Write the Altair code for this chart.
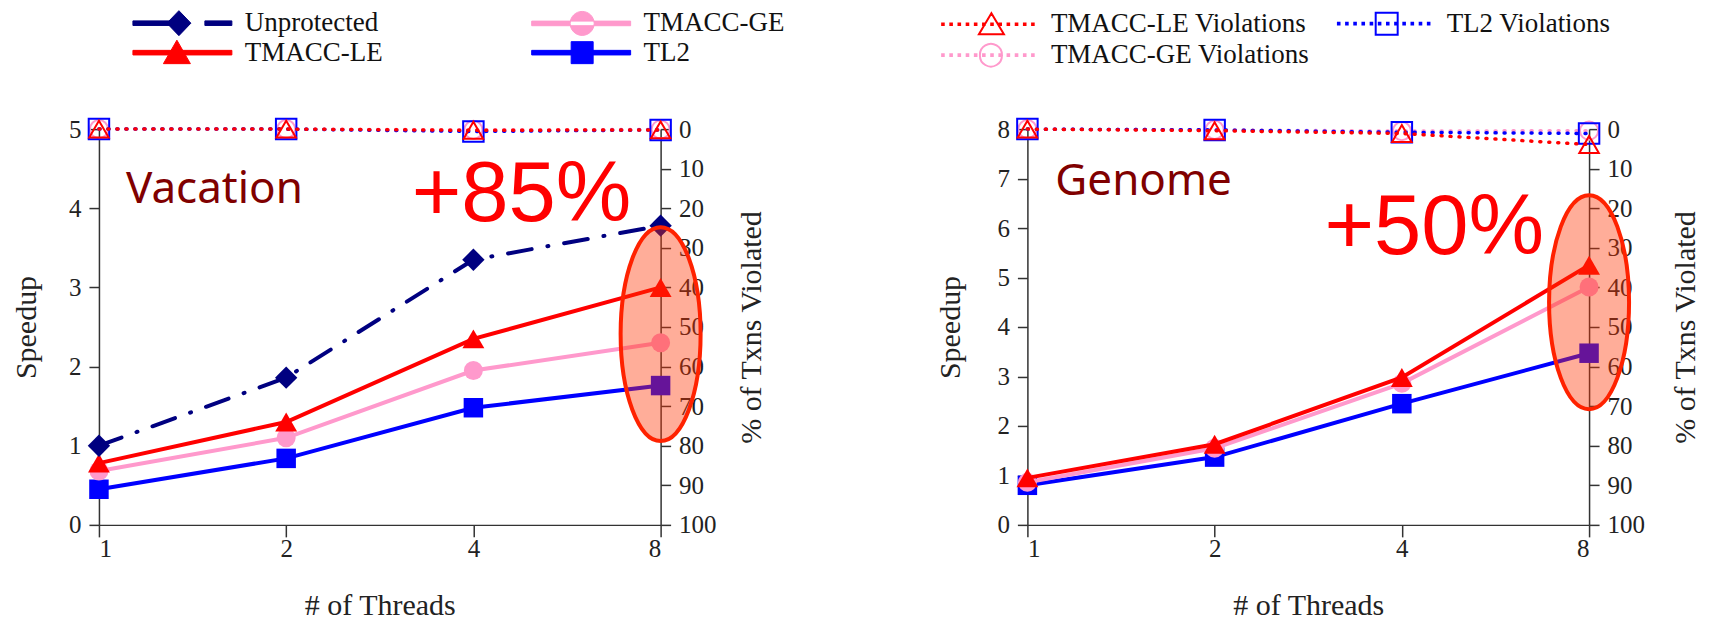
import altair as alt
import pandas as pd

# ---------------- data ----------------
threads = [1, 2, 4, 8]

speed_series = ["Unprotected", "TMACC-LE", "TMACC-GE", "TL2"]
viol_series = ["TMACC-LE Violations", "TMACC-GE Violations", "TL2 Violations"]

# Vacation speedup
vac_unprotected = [1.00, 1.86, 3.35, 3.78]
vac_tmacc_le = [0.78, 1.30, 2.35, 3.00]
vac_tmacc_ge = [0.68, 1.10, 1.95, 2.30]
vac_tl2 = [0.45, 0.84, 1.48, 1.76]

# Genome speedup
gen_tmacc_le = [0.95, 1.63, 2.98, 5.25]
gen_tmacc_ge = [0.86, 1.55, 2.86, 4.81]
gen_tl2 = [0.80, 1.37, 2.45, 3.47]

# % of transactions violated
vac_le_viol = [0.0, 0.0, 0.3, 0.2]
vac_ge_viol = [0.0, 0.0, 0.2, 0.1]
vac_tl2_viol = [0.0, 0.0, 0.6, 0.2]
gen_le_viol = [0.0, 0.4, 1.1, 3.9]
gen_ge_viol = [0.0, 0.2, 0.5, 0.4]
gen_tl2_viol = [0.0, 0.2, 0.8, 1.1]

vac_speedup_max = 5
gen_speedup_max = 8
pct_ticks = list(range(0, 101, 10))

# annotations (threads, speedup)
vac_name = ("Vacation", 1.105, 4.07)
gen_name = ("Genome", 1.109, 6.67)
vac_gain = ("+85%", 4.78, 3.84)
gen_gain = ("+50%", 4.51, 5.48)
vac_ellipse_center = 2.41
gen_ellipse_center = 4.50

# ---------------- styles ----------------
NAVY, RED, PINK, BLUE = "#000080", "#ff0000", "#ff99cc", "#0000ff"
STYLE = {
    "Unprotected": dict(color=NAVY, shape="diamond", size=500, dash=[24, 16, 1, 16], cap="round"),
    "TMACC-LE": dict(color=RED, shape="triangle-up", size=480),
    "TMACC-GE": dict(color=PINK, shape="circle", size=360),
    "TL2": dict(color=BLUE, shape="square", size=380),
    "TMACC-LE Violations": dict(color=RED, shape="triangle-up", size=380),
    "TMACC-GE Violations": dict(color=PINK, shape="circle", size=330),
    "TL2 Violations": dict(color=BLUE, shape="square", size=420),
}

SERIF = "Liberation Serif"
AX = dict(labelFont=SERIF, labelFontSize=25, labelColor="#222222", titleFont=SERIF,
          titleFontSize=30, titleFontWeight="normal", titleColor="#222222",
          domainColor="#333333", domainWidth=1.5, tickColor="#333333", tickWidth=1.5, grid=False)

U = 14.0  # px per legend path unit (symbolSize 784 -> diameter 28)


def P(v):
    return f"{v / U:.3f}"


def poly(pts):
    return "M " + " L ".join(f"{P(x)} {P(y)}" for x, y in pts) + " Z "


def bar(x0, x1, h=2.3):
    return poly([(x0, -h), (x1, -h), (x1, h), (x0, h)])


def circ(cx, r):
    return (f"M {P(cx - r)} 0 A {P(r)} {P(r)} 0 1 0 {P(cx + r)} 0 "
            f"A {P(r)} {P(r)} 0 1 0 {P(cx - r)} 0 Z ")


def dots():
    s = ""
    for k in range(12):
        x = -45 + k * 90 / 11
        s += poly([(x - 0.8, -0.8), (x + 0.8, -0.8), (x + 0.8, 0.8), (x - 0.8, 0.8)])
    return s


LEG_PATH = {
    "Unprotected": bar(-49.5, -3.5) + poly([(-15.5, 0), (-3.5, -12.5), (8.5, 0), (-3.5, 12.5)])
                   + bar(22.5, 49.5),
    "TMACC-LE": bar(-49.5, 49.5) + poly([(-5.5, -12.5), (8, 11), (-19, 11)]),
    "TMACC-GE": bar(-49.5, 49.5) + circ(1, 12),
    "TL2": bar(-49.5, 49.5) + poly([(-10, -11), (12, -11), (12, 11), (-10, 11)]),
    "TMACC-LE Violations": dots() + poly([(3.5, -11), (16, 10), (-9, 10)]),
    "TMACC-GE Violations": dots() + circ(3, 11),
    "TL2 Violations": dots() + poly([(-8, -11), (14, -11), (14, 11), (-8, 11)]),
}

ELLIPSE = "M -0.374 0 A 0.374 1 0 1 0 0.374 0 A 0.374 1 0 1 0 -0.374 0 Z"

W, H = 562, 396

xenc = alt.X("threads:Q", scale=alt.Scale(type="log", base=2, domain=[1, 8], nice=False),
             axis=alt.Axis(values=threads, format="d", title="# of Threads", tickSize=12,
                           labelPadding=0, titlePadding=29, **AX))


def yspeed(ymax, tpad):
    return alt.Y("speedup:Q", scale=alt.Scale(domain=[0, ymax], nice=False, zero=True),
                 axis=alt.Axis(values=list(range(0, ymax + 1)), format="d", orient="left",
                               title="Speedup", tickSize=10, labelPadding=8, titlePadding=tpad, **AX))


def ypct(tpad):
    return alt.Y("pct:Q", scale=alt.Scale(domain=[0, 100], reverse=True, nice=False),
                 axis=alt.Axis(values=pct_ticks, format="d", orient="right", title="% of Txns Violated",
                               titleAngle=270, titleBaseline="top", tickSize=10, labelPadding=8,
                               titlePadding=tpad, **AX))


def legend(x, y, colpad, rowpad, sw, filled):
    extra = dict(symbolOpacity=1, symbolFillColor="black") if filled else {}
    return alt.Legend(orient="none", legendX=x, legendY=y, columns=2, columnPadding=colpad,
                      rowPadding=rowpad, symbolSize=784, symbolStrokeWidth=sw, title=None,
                      labelFont=SERIF, labelFontSize=27, labelColor="#111111", labelOffset=48,
                      labelLimit=600, padding=0, offset=0, **extra)


def panel(speed_vals, viol_vals, ymax, name, gain, ell_center, leg_kind, ltpad, rtpad):
    ye = yspeed(ymax, ltpad)
    yp = ypct(rtpad)
    speed_layers = []
    for s in ["TL2", "TMACC-GE", "TMACC-LE", "Unprotected"]:
        if s not in speed_vals:
            continue
        st = STYLE[s]
        df = pd.DataFrame({"threads": threads, "speedup": speed_vals[s], "series": s})
        base = alt.Chart(df).encode(x=xenc, y=ye)
        lk = dict(color=st["color"], strokeWidth=4)
        if "dash" in st:
            lk.update(strokeDash=st["dash"], strokeCap=st["cap"])
        speed_layers.append(base.mark_line(**lk))
        speed_layers.append(base.mark_point(shape=st["shape"], size=st["size"], filled=True,
                                            color=st["color"], opacity=1, strokeWidth=0))
    # ellipse highlight at 8 threads
    edf = pd.DataFrame({"threads": [threads[-1]], "speedup": [ell_center]})
    speed_layers.append(alt.Chart(edf).mark_point(shape=ELLIPSE, size=45796, filled=True,
                                                  fill="#ff3300", fillOpacity=0.4, stroke="#ff2200",
                                                  strokeOpacity=1, strokeWidth=4, opacity=1)
                        .encode(x=xenc, y=ye))
    ndf = pd.DataFrame({"label": [name[0]], "threads": [name[1]], "speedup": [name[2]]})
    speed_layers.append(alt.Chart(ndf).mark_text(font="Noto Sans", fontSize=44, color="#800000",
                                                 align="left", baseline="alphabetic")
                        .encode(x=xenc, y=ye, text="label:N"))
    gdf = pd.DataFrame({"label": [gain[0]], "threads": [gain[1]], "speedup": [gain[2]]})
    speed_layers.append(alt.Chart(gdf).mark_text(font="Liberation Sans", fontSize=85, color="#ff0000",
                                                 align="center", baseline="alphabetic")
                        .encode(x=xenc, y=ye, text="label:N"))

    viol_layers = []
    for s in ["TMACC-GE Violations", "TL2 Violations", "TMACC-LE Violations"]:
        st = STYLE[s]
        df = pd.DataFrame({"threads": threads, "pct": viol_vals[s], "series": s})
        base = alt.Chart(df).encode(x=xenc, y=yp)
        viol_layers.append(base.mark_line(color=st["color"], strokeWidth=3.5, strokeDash=[1, 8],
                                          strokeCap="round"))
        viol_layers.append(base.mark_point(shape=st["shape"], size=st["size"], filled=False,
                                           color=st["color"], strokeWidth=2, opacity=1))

    if leg_kind == "speed":
        ldf = pd.DataFrame({"threads": threads, "speedup": vac_unprotected, "series": speed_series})
        lg = legend(69, -121, 146, -1, 1, True)
        sc_f = alt.Scale(domain=speed_series, range=[STYLE[s]["color"] for s in speed_series])
        sc_s = alt.Scale(domain=speed_series, range=[LEG_PATH[s] for s in speed_series])
        speed_layers.append(alt.Chart(ldf).mark_point(filled=True, opacity=0).encode(
            x=xenc, y=ye,
            fill=alt.Fill("series:N", scale=sc_f, legend=lg),
            stroke=alt.Stroke("series:N", scale=sc_f, legend=lg),
            shape=alt.Shape("series:N", scale=sc_s, legend=lg)))
    else:
        ldf = pd.DataFrame({"threads": threads[:3], "pct": [0, 0, 0], "series": viol_series})
        lg = legend(-54.5, -121, 24, 0, 2, False)
        sc_c = alt.Scale(domain=viol_series, range=[STYLE[s]["color"] for s in viol_series])
        sc_s = alt.Scale(domain=viol_series, range=[LEG_PATH[s] for s in viol_series])
        viol_layers.append(alt.Chart(ldf).mark_point(filled=False, opacity=0).encode(
            x=xenc, y=yp,
            stroke=alt.Stroke("series:N", scale=sc_c, legend=lg),
            shape=alt.Shape("series:N", scale=sc_s, legend=lg)))

    return alt.layer(alt.layer(*speed_layers), alt.layer(*viol_layers)).resolve_scale(
        y="independent").properties(width=W, height=H)


left = panel({"Unprotected": vac_unprotected, "TMACC-LE": vac_tmacc_le, "TMACC-GE": vac_tmacc_ge,
              "TL2": vac_tl2},
             {"TMACC-LE Violations": vac_le_viol, "TMACC-GE Violations": vac_ge_viol,
              "TL2 Violations": vac_tl2_viol},
             vac_speedup_max, vac_name, vac_gain, vac_ellipse_center, "speed", 27, 20)
right = panel({"TMACC-LE": gen_tmacc_le, "TMACC-GE": gen_tmacc_ge, "TL2": gen_tl2},
              {"TMACC-LE Violations": gen_le_viol, "TMACC-GE Violations": gen_ge_viol,
               "TL2 Violations": gen_tl2_viol},
              gen_speedup_max, gen_name, gen_gain, gen_ellipse_center, "viol", 31, 26)

chart = alt.hconcat(left, right, spacing=151).resolve_scale(
    fill="independent", stroke="independent", shape="independent"
).resolve_legend(fill="independent", stroke="independent", shape="independent").properties(
    padding={"left": 3, "top": 0, "right": 0, "bottom": 0}, background="white"
).configure(font=SERIF).configure_view(stroke=None)

chart.save("out.html", embed_options={"renderer": "svg", "actions": False})
